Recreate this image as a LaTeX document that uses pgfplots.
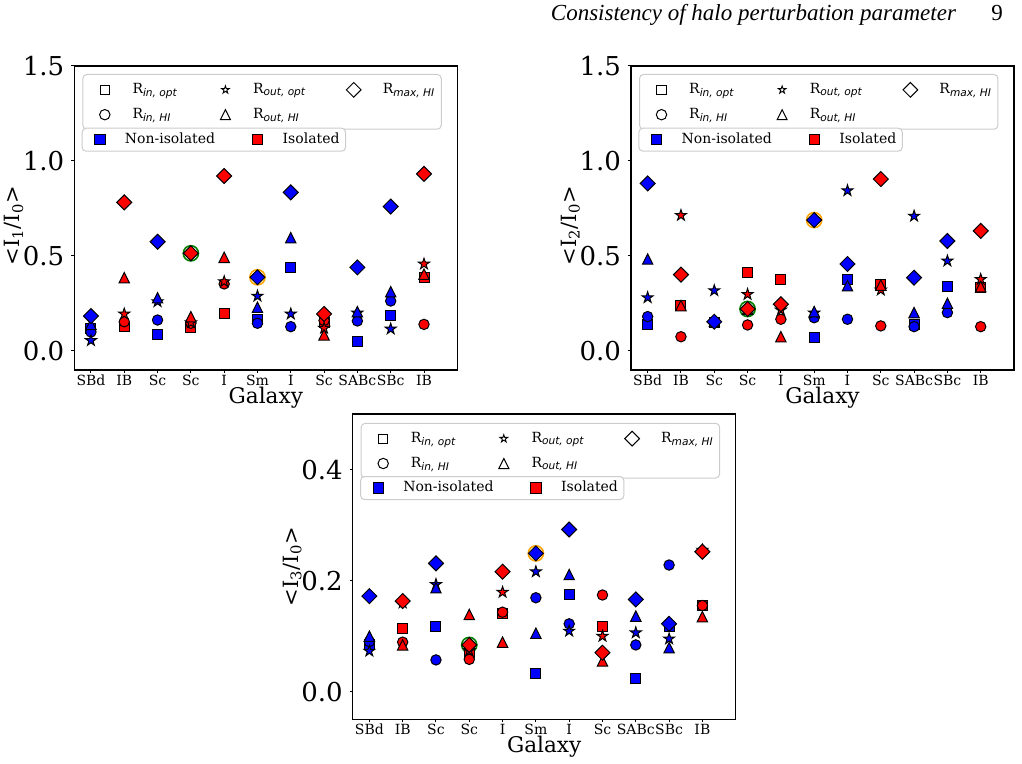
\documentclass[border=0pt]{standalone}
\usepackage{fontspec}
\setmainfont{DejaVu Serif}
\newfontfamily\timesf{Liberation Serif}
\newfontfamily\dvs{DejaVu Sans}
\usepackage{pgfplots}
\usepackage{pgfplotstable}
\pgfplotsset{compat=1.18}
\definecolor{mblue}{RGB}{0,0,255}
\definecolor{mred}{RGB}{255,0,0}
\definecolor{mgreen}{RGB}{0,128,0}
\definecolor{morange}{RGB}{255,165,0}

\pgfdeclareplotmark{mstar}{%
 \pgfpathmoveto{\pgfqpointpolar{90}{\pgfplotmarksize}}%
 \pgfpathlineto{\pgfqpointpolar{126}{0.382\pgfplotmarksize}}%
 \pgfpathlineto{\pgfqpointpolar{162}{\pgfplotmarksize}}%
 \pgfpathlineto{\pgfqpointpolar{198}{0.382\pgfplotmarksize}}%
 \pgfpathlineto{\pgfqpointpolar{234}{\pgfplotmarksize}}%
 \pgfpathlineto{\pgfqpointpolar{270}{0.382\pgfplotmarksize}}%
 \pgfpathlineto{\pgfqpointpolar{306}{\pgfplotmarksize}}%
 \pgfpathlineto{\pgfqpointpolar{342}{0.382\pgfplotmarksize}}%
 \pgfpathlineto{\pgfqpointpolar{18}{\pgfplotmarksize}}%
 \pgfpathlineto{\pgfqpointpolar{54}{0.382\pgfplotmarksize}}%
 \pgfpathclose\pgfusepathqfillstroke}
\pgfdeclareplotmark{mstaro}{%
 \pgfpathmoveto{\pgfqpointpolar{90}{\pgfplotmarksize}}%
 \pgfpathlineto{\pgfqpointpolar{126}{0.382\pgfplotmarksize}}%
 \pgfpathlineto{\pgfqpointpolar{162}{\pgfplotmarksize}}%
 \pgfpathlineto{\pgfqpointpolar{198}{0.382\pgfplotmarksize}}%
 \pgfpathlineto{\pgfqpointpolar{234}{\pgfplotmarksize}}%
 \pgfpathlineto{\pgfqpointpolar{270}{0.382\pgfplotmarksize}}%
 \pgfpathlineto{\pgfqpointpolar{306}{\pgfplotmarksize}}%
 \pgfpathlineto{\pgfqpointpolar{342}{0.382\pgfplotmarksize}}%
 \pgfpathlineto{\pgfqpointpolar{18}{\pgfplotmarksize}}%
 \pgfpathlineto{\pgfqpointpolar{54}{0.382\pgfplotmarksize}}%
 \pgfpathclose\pgfusepathqstroke}
\pgfdeclareplotmark{mtri}{%
 \pgfpathmoveto{\pgfqpoint{0pt}{\pgfplotmarksize}}%
 \pgfpathlineto{\pgfqpoint{-\pgfplotmarksize}{-\pgfplotmarksize}}%
 \pgfpathlineto{\pgfqpoint{\pgfplotmarksize}{-\pgfplotmarksize}}%
 \pgfpathclose\pgfusepathqfillstroke}
\pgfdeclareplotmark{mtrio}{%
 \pgfpathmoveto{\pgfqpoint{0pt}{\pgfplotmarksize}}%
 \pgfpathlineto{\pgfqpoint{-\pgfplotmarksize}{-\pgfplotmarksize}}%
 \pgfpathlineto{\pgfqpoint{\pgfplotmarksize}{-\pgfplotmarksize}}%
 \pgfpathclose\pgfusepathqstroke}

\newcommand{\sub}[1]{\textsubscript{\dvs\itshape\fontsize{5.3}{6}\selectfont #1}}

\pgfplotsset{
 SQ/.style={only marks, mark=square*, mark size=2.5pt, mark options={draw=black, fill=#1, line width=0.5pt}},
 CI/.style={only marks, mark=*, mark size=2.6pt, mark options={draw=black, fill=#1, line width=0.5pt}},
 ST/.style={only marks, mark=mstar, mark size=2.9pt, mark options={draw=black, fill=#1, line width=0.5pt}},
 TR/.style={only marks, mark=mtri, mark size=2.6pt, mark options={draw=black, fill=#1, line width=0.5pt}},
 DI/.style={only marks, mark=square*, mark size=2.65pt, mark options={draw=black, fill=#1, line width=0.5pt, rotate=45}},
 HL/.style={only marks, mark=o, mark size=3.8pt, mark options={draw=#1, line width=0.8pt}},
 myax/.style={scale only axis, width=191.5pt, anchor=south west,
  xmin=-0.5, xmax=11, xtick={0,...,10},
  xticklabels={SBd,IB,Sc,Sc,I,Sm,I,Sc,SABc,SBc,IB},
  xticklabel style={font=\fontsize{7}{8}\selectfont, yshift=2.5pt},
  yticklabel style={font=\fontsize{13}{14}\selectfont, /pgf/number format/fixed, /pgf/number format/fixed zerofill, /pgf/number format/precision=1, /pgf/number format/assume math mode=true},
  tick align=outside, major tick length=1.5pt, tick style={black, line width=0.5pt},
  xtick pos=bottom, ytick pos=left,
  axis line style={black, line width=0.6pt},
  xlabel={Galaxy},
  xlabel style={at={(axis description cs:0.5,-0.09)}, anchor=center, font=\fontsize{10.8}{12}\selectfont},
  ylabel style={at={(axis description cs:-0.158,0.475)}, anchor=center, font=\fontsize{10.5}{12}\selectfont},
  clip=false},
 lgbox/.style n args={4}{legend cell align=left, legend style={anchor=north west, draw=black!20, rounded corners=2pt, line width=0.5pt, inner xsep=3pt, inner ysep=#1, font=\fontsize{7}{8}\selectfont, nodes={inner xsep=0pt, inner ysep=0pt, text height=5pt, text depth=1.5pt}, row sep=5.5pt, /tikz/every odd column/.append style={column sep=#2}, /tikz/every even column/.append style={column sep=#3}},
  legend image code/.code={\path[draw=none,fill=none] (-#4,-3pt) rectangle (3pt,3pt); \draw[##1] plot coordinates {(0pt,0pt)};}},
 legax/.style={scale only axis, width=191.5pt, anchor=south west, hide axis, xmin=0, xmax=1, ymin=0, ymax=1, legend columns=2, lgbox={2.5pt}{9.5pt}{15.45pt}{5.85pt}}
}

\newcommand{\legA}{%
 \addlegendimage{only marks, mark=square, mark size=2.3pt, mark options={draw=black, line width=0.5pt}}
 \addlegendentry{R\sub{in, opt}}
 \addlegendimage{only marks, mark=mstaro, mark size=2.0pt, mark options={draw=black, line width=0.45pt}}
 \addlegendentry{R\sub{out, opt}}
 \addlegendimage{only marks, mark=square, mark size=2.6pt, mark options={draw=black, line width=0.5pt, rotate=45}}
 \addlegendentry{R\sub{max, HI}}
 \addlegendimage{only marks, mark=o, mark size=2.6pt, mark options={draw=black, line width=0.5pt}}
 \addlegendentry{R\sub{in, HI}}
 \addlegendimage{only marks, mark=mtrio, mark size=2.5pt, mark options={draw=black, line width=0.5pt}}
 \addlegendentry{R\sub{out, HI}}
}
\newcommand{\legB}{%
 \addlegendimage{only marks, mark=square*, mark size=2.6pt, mark options={draw=black, fill=mblue, line width=0.5pt}}
 \addlegendentry{Non-isolated}
 \addlegendimage{only marks, mark=square*, mark size=2.6pt, mark options={draw=black, fill=mred, line width=0.5pt}}
 \addlegendentry{Isolated}
 \addplot[draw=none, forget plot] coordinates {(0.5,0.5)};
}
\newcommand{\pts}[2]{%
 \addplot[SQ=mblue] table[x=x,y=sq]{#1};
 \addplot[SQ=mred] table[x=x,y=sq]{#2};
 \addplot[CI=mblue] table[x=x,y=ci]{#1};
 \addplot[CI=mred] table[x=x,y=ci]{#2};
 \addplot[ST=mblue] table[x=x,y=st]{#1};
 \addplot[ST=mred] table[x=x,y=st]{#2};
 \addplot[TR=mblue] table[x=x,y=tr]{#1};
 \addplot[TR=mred] table[x=x,y=tr]{#2};
 \addplot[DI=mblue] table[x=x,y=di]{#1};
 \addplot[DI=mred] table[x=x,y=di]{#2};
}

% Panel 1: <I1/I0>
\pgfplotstableread{
x sq ci st tr di
0 0.12 0.10 0.055 0.14 0.184
2 0.088 0.163 0.26 0.28 0.575
5 0.167 0.146 0.289 0.23 0.388
6 0.439 0.128 0.195 0.596 0.835
8 0.049 0.158 0.20 0.207 0.44
9 0.186 0.263 0.116 0.312 0.76
}\ponB
\pgfplotstableread{
x sq ci st tr di
1 0.128 0.154 0.195 0.386 0.782
3 0.125 0.146 0.149 0.18 0.514
4 0.195 0.353 0.365 0.493 0.921
7 0.15 0.16 0.12 0.085 0.195
10 0.386 0.14 0.458 0.404 0.932
}\ponR
% Panel 2: <I2/I0>
\pgfplotstableread{
x sq ci st tr di
0 0.137 0.181 0.281 0.484 0.882
2 0.149 0.149 0.318 0.155 0.154
5 0.072 0.175 0.20 0.207 0.689
6 0.377 0.167 0.844 0.344 0.458
8 0.14 0.128 0.71 0.202 0.386
9 0.339 0.202 0.474 0.251 0.579
}\ptwB
\pgfplotstableread{
x sq ci st tr di
1 0.239 0.075 0.714 0.239 0.402
3 0.412 0.137 0.298 0.22 0.221
4 0.377 0.167 0.216 0.075 0.246
7 0.351 0.132 0.321 0.347 0.905
10 0.333 0.128 0.377 0.339 0.632
}\ptwR
% Panel 3: <I3/I0>
\pgfplotstableread{
x sq ci st tr di
0 0.085 0.09 0.073 0.0997 0.172
2 0.117 0.057 0.193 0.187 0.231
5 0.033 0.169 0.216 0.105 0.249
6 0.175 0.122 0.109 0.211 0.292
8 0.024 0.084 0.106 0.136 0.166
9 0.118 0.228 0.095 0.079 0.122
}\pthB
\pgfplotstableread{
x sq ci st tr di
1 0.114 0.089 0.16 0.084 0.163
3 0.071 0.058 0.074 0.139 0.084
4 0.14 0.143 0.179 0.089 0.216
7 0.117 0.174 0.0997 0.055 0.070
10 0.155 0.155 0.255 0.135 0.252
}\pthR

\begin{document}
\begin{tikzpicture}
\useasboundingbox (0,0) rectangle (511pt,382pt);
\node[anchor=base east, font=\timesf\itshape\fontsize{11.5}{13}\selectfont] at (481.5pt,371.5pt) {Consistency of halo perturbation parameter};
\node[anchor=base east, font=\timesf\fontsize{11.5}{13}\selectfont] at (505pt,371.5pt) {9};

% ---- Panel 1
\begin{axis}[myax, at={(37.15pt,197pt)}, height=152pt, ymin=-0.1, ymax=1.5, ytick={0,0.5,1,1.5},
 ylabel={\textless I\textsubscript{1}/I\textsubscript{0}\textgreater},
 legend columns=3, lgbox={4pt}{10.85pt}{15.8pt}{8pt}, legend style={at={(0.0209,0.9737)}}]
\legA
\addplot[HL=mgreen] coordinates {(3,0.514)};
\addplot[HL=morange] coordinates {(5,0.388)};
\pts{\ponB}{\ponR}
\end{axis}
\begin{axis}[legax, at={(37.15pt,197pt)}, height=152pt, legend style={at={(0.0193,0.797)}}]
\legB
\end{axis}

% ---- Panel 2
\begin{axis}[myax, at={(315.5pt,197pt)}, height=152pt, ymin=-0.1, ymax=1.5, ytick={0,0.5,1,1.5},
 ylabel={\textless I\textsubscript{2}/I\textsubscript{0}\textgreater},
 legend columns=3, lgbox={4pt}{10.85pt}{15.8pt}{8pt}, legend style={at={(0.0209,0.9737)}}]
\legA
\addplot[HL=mgreen] coordinates {(3,0.221)};
\addplot[HL=morange] coordinates {(5,0.689)};
\pts{\ptwB}{\ptwR}
\end{axis}
\begin{axis}[legax, at={(315.5pt,197pt)}, height=152pt, legend style={at={(0.0193,0.797)}}]
\legB
\end{axis}

% ---- Panel 3
\begin{axis}[myax, at={(176.35pt,22.35pt)}, height=152.6pt, ymin=-0.05, ymax=0.5, ytick={0,0.2,0.4},
 ylabel={\textless I\textsubscript{3}/I\textsubscript{0}\textgreater},
 ylabel style={at={(axis description cs:-0.158,0.5)}},
 legend columns=3, lgbox={4pt}{10.85pt}{15.8pt}{8pt}, legend style={at={(0.0209,0.9715)}}]
\legA
\addplot[HL=mgreen] coordinates {(3,0.084)};
\addplot[HL=morange] coordinates {(5,0.249)};
\pts{\pthB}{\pthR}
\end{axis}
\begin{axis}[legax, at={(176.35pt,22.35pt)}, height=152.6pt, legend style={at={(0.0193,0.797)}}]
\legB
\end{axis}
\end{tikzpicture}
\end{document}
